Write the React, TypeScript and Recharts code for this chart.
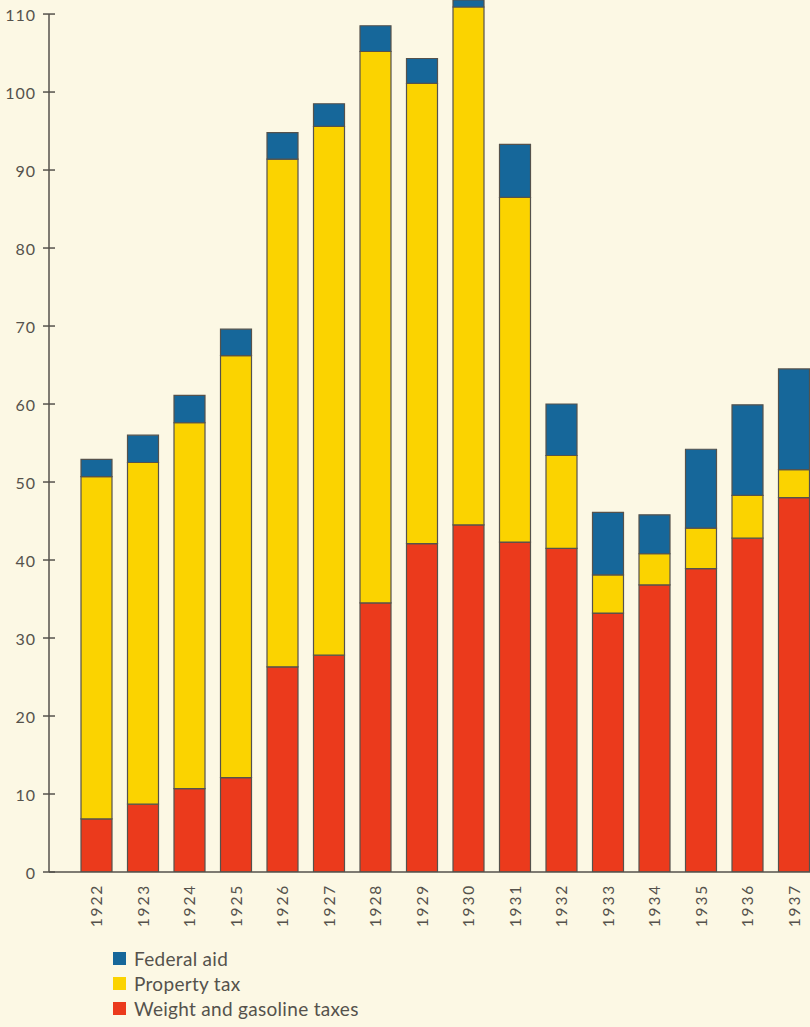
import { BarChart, Bar, XAxis, YAxis } from "recharts"

// Years and stacked segments (millions of dollars)
const YEARS = [
  "1922", "1923", "1924", "1925", "1926", "1927", "1928", "1929",
  "1930", "1931", "1932", "1933", "1934", "1935", "1936", "1937",
]
const WEIGHT_GAS = [6.8, 8.7, 10.7, 12.1, 26.3, 27.8, 34.5, 42.1, 44.5, 42.3, 41.5, 33.2, 36.8, 38.9, 42.8, 48.0]
const PROPERTY_TAX = [43.9, 43.8, 46.9, 54.1, 65.1, 67.8, 70.7, 59.0, 66.4, 44.2, 11.9, 4.9, 4.0, 5.2, 5.5, 3.6]
// 1930 runs off the top of the page; its federal aid is an estimate
const FEDERAL_AID = [2.2, 3.5, 3.5, 3.4, 3.4, 2.9, 3.3, 3.2, 3.0, 6.8, 6.6, 8.0, 5.0, 10.1, 11.6, 12.9]
const Y_TICKS = [0, 10, 20, 30, 40, 50, 60, 70, 80, 90, 100, 110]

const data = YEARS.map((year, i) => ({
  year,
  weightGas: WEIGHT_GAS[i],
  propertyTax: PROPERTY_TAX[i],
  federalAid: FEDERAL_AID[i],
}))

const INK = "#55524c"
const PAPER = "#fcf8e4"
const FONT = "Lato, 'Noto Sans', sans-serif"

const SERIES = [
  { key: "weightGas", label: "Weight and gasoline taxes", color: "#eb3a1c" },
  { key: "propertyTax", label: "Property tax", color: "#fbd300" },
  { key: "federalAid", label: "Federal aid", color: "#16679a" },
] as const

// tick label plus the part of the tick mark that sits right of the axis
function YTick({ x, y, payload }: any) {
  const ax = x + 12
  return (
    <g>
      <line x1={ax} x2={ax + 6} y1={y} y2={y} stroke={INK} strokeWidth={1.5} />
      <text
        x={x - 1}
        y={y}
        textAnchor="end"
        dominantBaseline="central"
        fill={INK}
        fontSize={16}
        letterSpacing={1}
        fontFamily={FONT}
      >
        {payload.value}
      </text>
    </g>
  )
}

function XTick({ x, y, payload }: any) {
  return (
    <text
      transform={`translate(${x},${y + 4}) rotate(-90)`}
      textAnchor="end"
      dominantBaseline="central"
      fill={INK}
      fontSize={15.5}
      letterSpacing={1.8}
      fontFamily={FONT}
    >
      {payload.value}
    </text>
  )
}

export default function App() {
  return (
    <div
      style={{
        position: "absolute",
        left: 0,
        top: 0,
        width: 810,
        height: 1027,
        overflow: "hidden",
        background: PAPER,
        fontFamily: FONT,
      }}
    >
      <BarChart
        width={817}
        height={932}
        data={data}
        margin={{ top: 0, right: 0, bottom: 0, left: 0 }}
      >
        <XAxis
          dataKey="year"
          height={60}
          padding={{ left: 24, right: 0 }}
          tickLine={false}
          axisLine={{ stroke: INK, strokeWidth: 1.5 }}
          tick={<XTick />}
          interval={0}
        />
        <YAxis
          width={49}
          domain={[0, 111.8]}
          allowDataOverflow
          ticks={Y_TICKS}
          tickSize={6}
          tickMargin={6}
          tickLine={{ stroke: INK, strokeWidth: 1.5 }}
          axisLine={{ stroke: INK, strokeWidth: 1.5, strokeDasharray: "0 14 860" }}
          tick={<YTick />}
        />
        {SERIES.map((s) => (
          <Bar
            key={s.key}
            dataKey={s.key}
            stackId="a"
            fill={s.color}
            stroke={INK}
            strokeWidth={1.2}
            barSize={31}
            isAnimationActive={false}
          />
        ))}
      </BarChart>

      <div style={{ position: "absolute", left: 113, top: 946, color: INK, fontSize: 19, letterSpacing: 0.3 }}>
        {[...SERIES].reverse().map((s) => (
          <div key={s.key} style={{ display: "flex", alignItems: "center", height: 25 }}>
            <span
              style={{ display: "inline-block", width: 13, height: 13, background: s.color, marginRight: 8 }}
            />
            {s.label}
          </div>
        ))}
      </div>
    </div>
  )
}
